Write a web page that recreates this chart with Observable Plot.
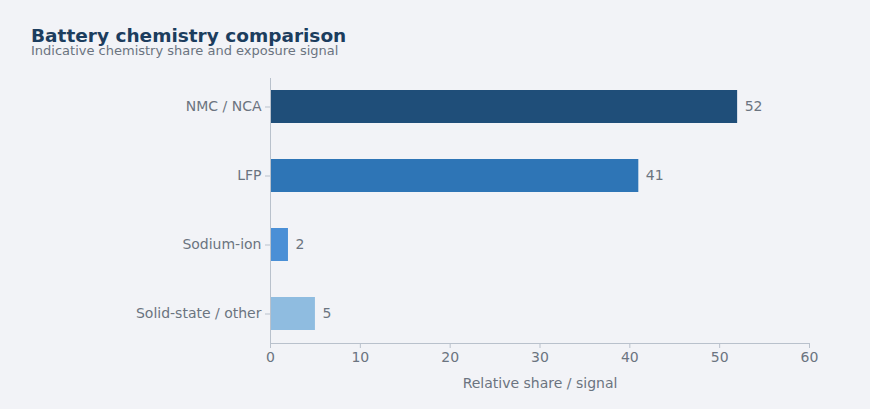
<!DOCTYPE html>
<html><head><meta charset="utf-8">
<script src="https://cdn.jsdelivr.net/npm/d3@7"></script>
<script src="https://cdn.jsdelivr.net/npm/@observablehq/plot@0.6"></script>
<style>
body{margin:0;background:#f2f3f7;font-family:"DejaVu Sans",sans-serif;}
#wrap{position:relative;width:870px;height:409px;}
#t{position:absolute;left:31px;top:25px;font-size:18.5px;font-weight:bold;color:#1c3d5e;}
#s{position:absolute;left:31px;top:43px;font-size:13px;color:#6b7480;}
</style></head><body>
<div id="wrap"><div id="t">Battery chemistry comparison</div><div id="s">Indicative chemistry share and exposure signal</div><div id="c"></div></div>
<script>
const categories = ["NMC / NCA","LFP","Sodium-ion","Solid-state / other"];
const values = [52,41,2,5];
const colors = ["#1f4e79","#2e75b6","#4a8fd6","#8fbce0"];
const xTicks = [0,10,20,30,40,50,60];
const data = categories.map((c,i)=>({c,v:values[i],col:colors[i]}));
const chart = Plot.plot({
  width:870,height:409,marginTop:78,marginBottom:66,marginLeft:270,marginRight:61,
  style:{background:"transparent",fontFamily:"DejaVu Sans, sans-serif",fontSize:"14px",color:"#6b7480"},
  x:{domain:[0,60],ticks:xTicks,grid:false},
  y:{domain:categories,padding:0.52,range:[53.3,366.6],label:null},
  marks:[
    Plot.gridX(xTicks,{stroke:"#cdd3dc",strokeOpacity:1,y1:78,y2:343}),
    Plot.barX(data,{x:"v",y:"c",fill:"col"}),
    Plot.gridX(xTicks.slice(1,-1),{stroke:"#d9dde4",strokeOpacity:0.9,y1:78,y2:343}),
    Plot.text(data,{x:"v",y:"c",text:d=>String(d.v),dx:7,textAnchor:"start",fill:"#6b7480",fontSize:14}),
    Plot.axisX({ticks:xTicks,tickSize:5,stroke:"#b9c1cc",fill:"#6b7480",label:"Relative share / signal",labelArrow:"none",labelAnchor:"center",labelOffset:44,fontSize:14}),
    Plot.axisY({tickSize:5,stroke:"#b9c1cc",fill:"#6b7480",label:null,fontSize:14}),
    Plot.frame({anchor:"bottom",stroke:"#b9c1cc"}),
    Plot.frame({anchor:"left",stroke:"#b9c1cc"})
  ]
});
document.getElementById("c").appendChild(chart);
</script></body></html>
